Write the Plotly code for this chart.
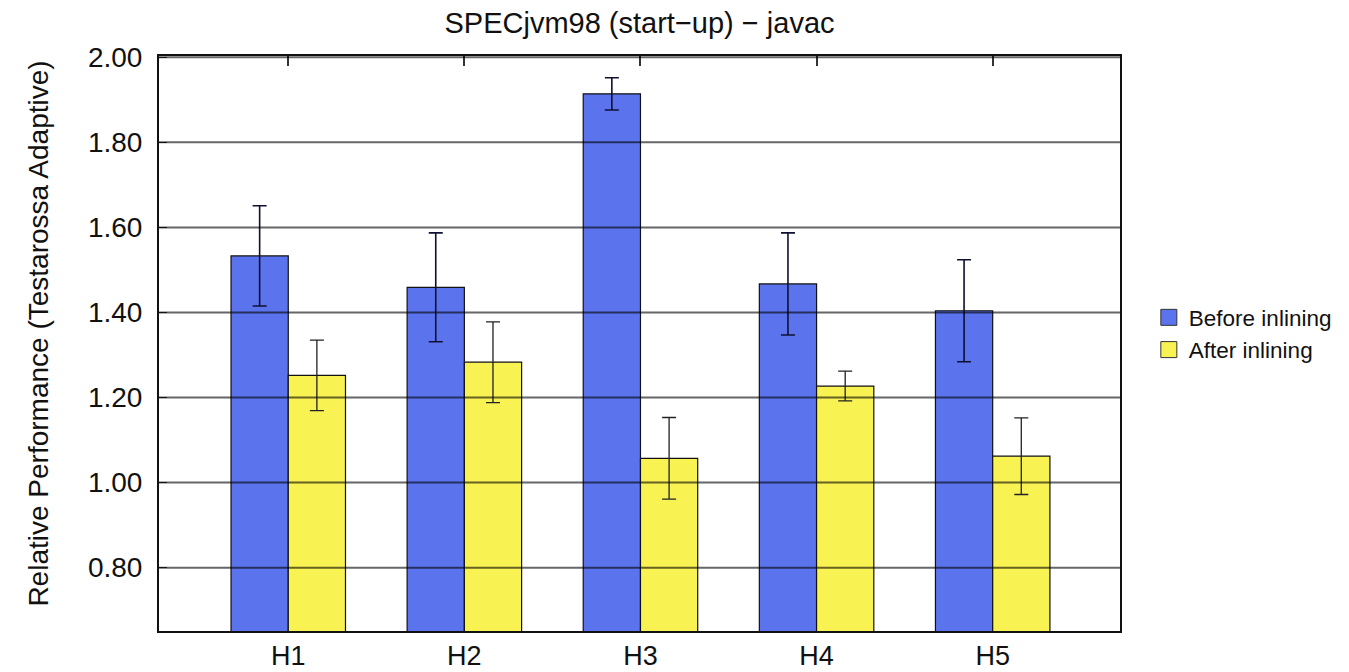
import plotly.graph_objects as go

categories = ["H1", "H2", "H3", "H4", "H5"]
before_vals = [1.533, 1.459, 1.914, 1.467, 1.404]
before_err = [0.118, 0.128, 0.038, 0.120, 0.120]
after_vals = [1.252, 1.283, 1.057, 1.227, 1.062]
after_err = [0.083, 0.095, 0.096, 0.035, 0.090]
y_ticks = [0.80, 1.00, 1.20, 1.40, 1.60, 1.80, 2.00]
series_names = ["Before inlining", "After inlining"]

FONT = "Liberation Sans, Arial, sans-serif"
BLUE = "#5b74ee"
YELLOW = "#f9f253"
W, H = 1341, 664
L, R, T, B = 151, 222, 48, 41
X_RANGE = [-0.734, 4.723]

fig = go.Figure()
fig.add_trace(go.Bar(
    name=series_names[0], x=categories, y=before_vals, showlegend=False,
    marker=dict(color=BLUE, line=dict(color="#111111", width=1.2)),
    error_y=dict(type="data", array=before_err, color="#101030", thickness=1.6, width=7),
))
fig.add_trace(go.Bar(
    name=series_names[1], x=categories, y=after_vals, showlegend=False,
    marker=dict(color=YELLOW, line=dict(color="#111111", width=1.2)),
    error_y=dict(type="data", array=after_err, color="#222222", thickness=1.3, width=7),
))
# legend entries with larger square swatches
for name, col in zip(series_names, [BLUE, YELLOW]):
    fig.add_trace(go.Scatter(
        x=[None], y=[None], mode="markers", name=name,
        marker=dict(symbol="square", size=22, color=col, line=dict(color="#333333", width=1)),
    ))
# invisible trace so the top tick axis is drawn
fig.add_trace(go.Scatter(x=[None], y=[None], xaxis="x2", showlegend=False, hoverinfo="skip"))

for t in y_ticks:
    fig.add_hline(y=t, line=dict(color="rgba(0,0,0,0.6)", width=2), layer="above")

fig.add_annotation(
    text="Relative Performance (Testarossa Adaptive)", textangle=-90,
    xref="paper", yref="paper", x=(30 - L) / (W - L - R), y=0.517,
    xanchor="center", yanchor="middle", showarrow=False,
    font=dict(family=FONT, size=28, color="#111111"),
)

fig.update_layout(
    width=W, height=H,
    margin=dict(l=L, r=R, t=T, b=B),
    paper_bgcolor="white", plot_bgcolor="white",
    barmode="group", bargap=0.35, bargroupgap=0,
    title=dict(text="SPECjvm98 (start\u2212up) \u2212 javac", xref="paper", x=0.5, xanchor="center",
               yref="container", y=1 - 15 / H, yanchor="middle",
               font=dict(family=FONT, size=29, color="#111111")),
    font=dict(family=FONT, color="#111111"),
    legend=dict(x=1.03, y=0.517, xanchor="left", yanchor="middle",
                font=dict(family=FONT, size=22.5, color="#111111"),
                bgcolor="rgba(0,0,0,0)", itemsizing="trace", tracegroupgap=0),
    showlegend=True,
    xaxis=dict(range=X_RANGE, showgrid=False, showline=True, linecolor="#111111", linewidth=2,
               mirror=True, ticks="", automargin=False,
               tickfont=dict(family=FONT, size=27, color="#111111"), ticklabelstandoff=0),
    xaxis2=dict(overlaying="x", side="top", range=X_RANGE,
                tickvals=list(range(len(categories))), showticklabels=False,
                ticks="inside", ticklen=10, tickcolor="#333333", tickwidth=1.5,
                showgrid=False, zeroline=False, showline=False, automargin=False),
    yaxis=dict(range=[0.651, 2.003], tickvals=y_ticks, tickformat=".2f", showgrid=False,
               showline=True, linecolor="#111111", linewidth=2, mirror=True,
               ticks="inside", ticklen=8, tickcolor="#333333", automargin=False,
               tickfont=dict(family=FONT, size=28, color="#111111"), ticklabelstandoff=9,
               zeroline=False),
)

fig.write_html("out.html")
